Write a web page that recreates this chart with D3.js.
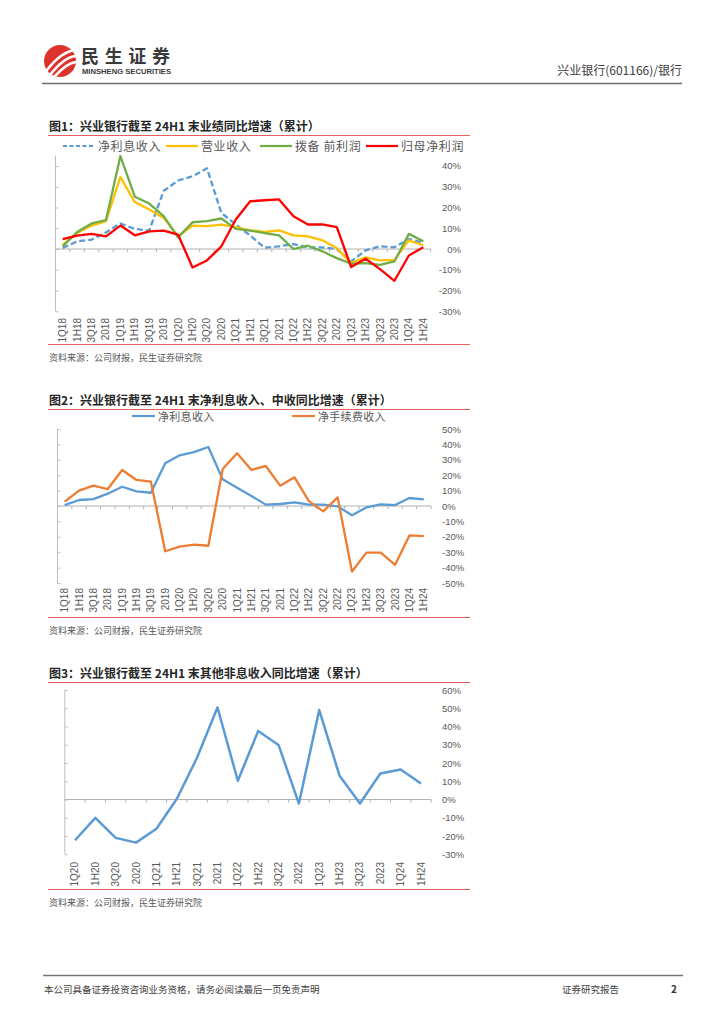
<!DOCTYPE html>
<html>
<head>
<meta charset="utf-8">
<script src="https://cdn.jsdelivr.net/npm/d3@7"></script>
<style>
  body { margin: 0; background: #fff; }
  svg { display: block; font-family: "Noto Sans CJK SC", "Liberation Sans", sans-serif; }
</style>
</head>
<body>
<svg id="canvas"></svg>
<script>
//--data
let quarters1 = ['1Q18','1H18','3Q18','2018','1Q19','1H19','3Q19','2019','1Q20','1H20','3Q20','2020','1Q21','1H21','3Q21','2021','1Q22','1H22','3Q22','2022','1Q23','1H23','3Q23','2023','1Q24','1H24'];
let quarters3 = ['1Q20','1H20','3Q20','2020','1Q21','1H21','3Q21','2021','1Q22','1H22','3Q22','2022','1Q23','1H23','3Q23','2023','1Q24','1H24'];

// chart 1 (%)
let netInterest1 = [0.5, 3.7, 4.5, 8, 12.3, 9.7, 8.9, 28, 33, 35, 38.9, 17.4, 11.8, 6.5, 0.6, 1.3, 2.4, 0.8, 0.8, 0, -6, -0.6, 1.3, 0.8, 4.8, 3];
let revenue1 = [2, 7.7, 11.3, 13.4, 34.7, 22.6, 19, 15, 6.1, 11.3, 11, 11.8, 10.5, 9, 8.2, 9, 6.6, 6.1, 4.2, 0.5, -6.8, -4, -5.5, -5.2, 4.2, 1.8];
let ppop1 = [1.3, 8.2, 12.3, 13.9, 44.8, 25.2, 21.9, 15.8, 5.6, 12.9, 13.4, 14.7, 9.7, 8.9, 7.7, 6.6, 0, 1.6, -1.1, -4.4, -7.1, -6.8, -7.6, -6, 7.3, 3.7];
let netProfit1 = [4.8, 6.5, 7.3, 6.1, 11.3, 6.6, 8.5, 8.9, 6.9, -8.9, -5.5, 1.3, 14.2, 23, 23.5, 23.9, 15.8, 11.8, 11.9, 10.6, -8.7, -4.7, -9.7, -15.3, -3.1, 0.8];

// chart 2 (%)
let netInterest2 = [0.6, 3.9, 4.5, 8, 12.5, 9.5, 8.6, 27.7, 32.9, 35, 38.3, 17.3, 11.9, 6.5, 0.9, 1.3, 2.4, 0.9, 0.9, -0.2, -6, -0.9, 1.1, 0.6, 5.2, 4.3];
let feeIncome2 = [2.8, 10, 13.2, 11, 23.4, 16.9, 15.8, -29.4, -26.4, -25.1, -25.8, 24, 34.2, 23.4, 26, 13.2, 18.6, 3.2, -3.5, 5.6, -42.5, -30.3, -30.3, -38.2, -19.1, -19.5];

// chart 3 (%)
let otherNonInterest3 = [-22.3, -10, -21, -23.6, -16, 0.3, 23, 50.4, 10.3, 37.5, 29.9, -2.2, 49, 13, -2.2, 14.3, 16.5, 8.8];

let ticks1 = [-30, -20, -10, 0, 10, 20, 30, 40];
let ticks2 = [-50, -40, -30, -20, -10, 0, 10, 20, 30, 40, 50];
let ticks3 = [-30, -20, -10, 0, 10, 20, 30, 40, 50, 60];
//--

let width = 724;
let height = 1024;

let canvas = d3.select('#canvas')
canvas.attr('width', width)
canvas.attr('height', height)

let textGray = '#595959';
let ruleRed = '#e06060';

//--header
let drawHeader = () => {
    let logo = canvas.append('g')
    logo.append('circle')
        .attr('cx', 60).attr('cy', 61).attr('r', 16)
        .attr('fill', '#e0322c')
    ;[[47, 70, 61, 52, 75, 50], [50, 75, 64, 57, 76, 56], [55, 76, 67, 63, 76, 62]].forEach(p => {
        logo.append('path')
            .attr('d', `M${p[0]},${p[1]} Q${p[2]},${p[3]} ${p[4]},${p[5]}`)
            .attr('fill', 'none')
            .attr('stroke', '#fff')
            .attr('stroke-width', 2.6)
            .attr('stroke-linecap', 'round')
    })

    canvas.append('text')
        .attr('x', 81).attr('y', 63)
        .attr('font-size', 18).attr('font-weight', 'bold')
        .attr('fill', '#3a3a3a')
        .attr('textLength', 89)
        .text('民生证券')

    canvas.append('text')
        .attr('x', 82).attr('y', 73.5)
        .attr('font-size', 7).attr('font-weight', 'bold')
        .attr('font-family', 'Liberation Sans')
        .attr('fill', '#3a3a3a')
        .attr('textLength', 89)
        .attr('lengthAdjust', 'spacingAndGlyphs')
        .text('MINSHENG SECURITIES')

    canvas.append('text')
        .attr('x', 682).attr('y', 75)
        .attr('text-anchor', 'end')
        .attr('font-size', 12)
        .attr('fill', '#404040')
        .text('兴业银行(601166)/银行')

    canvas.append('line')
        .attr('x1', 42).attr('x2', 682)
        .attr('y1', 83.5).attr('y2', 83.5)
        .attr('stroke', '#6e6e6e').attr('stroke-width', 1.5)
}

//--footer
let drawFooter = () => {
    canvas.append('line')
        .attr('x1', 43).attr('x2', 683)
        .attr('y1', 975.5).attr('y2', 975.5)
        .attr('stroke', '#777').attr('stroke-width', 1.3)

    canvas.append('text')
        .attr('x', 44).attr('y', 993)
        .attr('font-size', 9.5).attr('fill', '#404040')
        .text('本公司具备证券投资咨询业务资格，请务必阅读最后一页免责声明')

    canvas.append('text')
        .attr('x', 562).attr('y', 993)
        .attr('font-size', 9.5).attr('fill', '#404040')
        .text('证券研究报告')

    canvas.append('text')
        .attr('x', 671).attr('y', 993)
        .attr('font-size', 10).attr('font-weight', 'bold').attr('fill', '#333')
        .text('2')
}

//--one chart block
let drawChart = (cfg) => {
    let g = canvas.append('g')

    // title + red rule
    g.append('text')
        .attr('x', 49).attr('y', cfg.titleY)
        .attr('font-size', 12).attr('font-weight', 'bold')
        .attr('fill', '#262626')
        .text(cfg.title)

    g.append('line')
        .attr('x1', 48).attr('x2', 470)
        .attr('y1', cfg.titleY + 4.5).attr('y2', cfg.titleY + 4.5)
        .attr('stroke', ruleRed).attr('stroke-width', 1)

    let x = d3.scalePoint()
              .domain(cfg.categories)
              .range(cfg.xRange)
              .padding(0.5)

    let y = d3.scaleLinear()
              .domain(cfg.yDomain)
              .range(cfg.yRange)

    let step = x.step()

    // left axis
    let left = g.append('g')
        .attr('transform', 'translate(' + cfg.xRange[0] + ',0)')
        .call(d3.axisRight(y).tickValues(cfg.yTicks).tickSize(3).tickFormat(''))
    left.select('.domain').attr('stroke', '#bfbfbf').attr('d', `M0,${cfg.yRange[1]}V${cfg.yRange[0]}`)
    left.selectAll('.tick line').attr('stroke', '#bfbfbf')

    // right labels
    g.selectAll('.ylab')
        .data(cfg.yTicks)
        .enter()
        .append('text')
        .attr('x', cfg.labelX)
        .attr('y', d => y(d) + 3.5)
        .attr('text-anchor', cfg.labelAnchor)
        .attr('font-size', 9.5)
        .attr('font-family', 'Liberation Sans')
        .attr('fill', textGray)
        .text(d => d + '%')

    // zero line with ticks at category boundaries
    let boundaries = d3.range(cfg.categories.length + 1).map(i => cfg.xRange[0] + i * step)
    let zeroAxis = g.append('g')
        .attr('transform', 'translate(0,' + y(0) + ')')
    zeroAxis.append('line')
        .attr('x1', cfg.xRange[0]).attr('x2', cfg.xRange[1])
        .attr('stroke', '#b0b0b0').attr('stroke-width', 1)
    zeroAxis.selectAll('.bt')
        .data(boundaries.slice(1))
        .enter()
        .append('line')
        .attr('x1', d => d).attr('x2', d => d)
        .attr('y1', 0).attr('y2', 3)
        .attr('stroke', '#b0b0b0')

    // rotated category labels
    g.selectAll('.xlab')
        .data(cfg.categories)
        .enter()
        .append('text')
        .attr('transform', d => 'translate(' + (x(d) + 3.5) + ',' + cfg.xLabelY + ') rotate(-90)')
        .attr('text-anchor', 'end')
        .attr('font-size', 10)
        .attr('font-family', 'Liberation Sans')
        .attr('fill', textGray)
        .text(d => d)

    // series
    let line = d3.line()
                 .x((d, i) => x(cfg.categories[i]))
                 .y(d => y(d))

    cfg.series.forEach(s => {
        g.append('path')
            .datum(s.values)
            .attr('d', line)
            .attr('fill', 'none')
            .attr('stroke', s.color)
            .attr('stroke-width', cfg.lineWidth)
            .attr('stroke-linejoin', 'round')
            .attr('stroke-dasharray', s.dash || null)
    })

    // legend
    cfg.series.forEach(s => {
        if (s.legendX == null) return
        g.append('line')
            .attr('x1', s.legendX).attr('x2', s.legendX + cfg.legendLine)
            .attr('y1', cfg.legendY).attr('y2', cfg.legendY)
            .attr('stroke', s.color)
            .attr('stroke-width', 2.2)
            .attr('stroke-dasharray', s.dash ? '4,2.5' : null)
        g.append('text')
            .attr('x', s.legendX + cfg.legendLine + 3)
            .attr('y', cfg.legendY + 4.5)
            .attr('font-size', cfg.legendFont)
            .attr('letter-spacing', cfg.legendSpacing)
            .attr('fill', textGray)
            .text(s.name)
    })

    // bottom rule + source
    g.append('line')
        .attr('x1', 48).attr('x2', 470)
        .attr('y1', cfg.bottomY).attr('y2', cfg.bottomY)
        .attr('stroke', ruleRed).attr('stroke-width', 1)

    g.append('text')
        .attr('x', 49).attr('y', cfg.bottomY + 16)
        .attr('font-size', 9)
        .attr('fill', textGray)
        .text('资料来源：公司财报，民生证券研究院')
}

drawHeader()

drawChart({
    title: '图1：兴业银行截至 24H1 末业绩同比增速（累计）',
    titleY: 131,
    categories: quarters1,
    xRange: [55.5, 430.5],
    yDomain: [-30, 45],
    yRange: [311.3, 155.6],
    yTicks: ticks1,
    labelX: 461, labelAnchor: 'end',
    xLabelY: 318,
    lineWidth: 2.3,
    legendY: 146, legendLine: 32, legendFont: 12, legendSpacing: 0.6,
    bottomY: 344.5,
    series: [
        { name: '净利息收入', values: netInterest1, color: '#5b9bd5', dash: '6,3', legendX: 63 },
        { name: '营业收入', values: revenue1, color: '#ffc000', legendX: 166 },
        { name: '拨备 前利润', values: ppop1, color: '#70ad47', legendX: 260 },
        { name: '归母净利润', values: netProfit1, color: '#ff0000', legendX: 366 }
    ]
})

drawChart({
    title: '图2：兴业银行截至 24H1 末净利息收入、中收同比增速（累计）',
    titleY: 405,
    categories: quarters1,
    xRange: [57.5, 431],
    yDomain: [-50, 50],
    yRange: [583, 429],
    yTicks: ticks2,
    labelX: 442, labelAnchor: 'start',
    xLabelY: 588,
    lineWidth: 2.3,
    legendY: 416, legendLine: 23, legendFont: 11, legendSpacing: 0.3,
    bottomY: 617.5,
    series: [
        { name: '净利息收入', values: netInterest2, color: '#5b9bd5', legendX: 132 },
        { name: '净手续费收入', values: feeIncome2, color: '#ed7d31', legendX: 292 }
    ]
})

drawChart({
    title: '图3：兴业银行截至 24H1 末其他非息收入同比增速（累计）',
    titleY: 678,
    categories: quarters3,
    xRange: [64.8, 431.2],
    yDomain: [-30, 60],
    yRange: [854.3, 690],
    yTicks: ticks3,
    labelX: 442, labelAnchor: 'start',
    xLabelY: 862,
    lineWidth: 2.5,
    legendY: 0, legendLine: 0, legendFont: 11, legendSpacing: 0,
    bottomY: 889.5,
    series: [
        { name: '其他非息收入', values: otherNonInterest3, color: '#5b9bd5' }
    ]
})

drawFooter()
</script>
</body>
</html>
